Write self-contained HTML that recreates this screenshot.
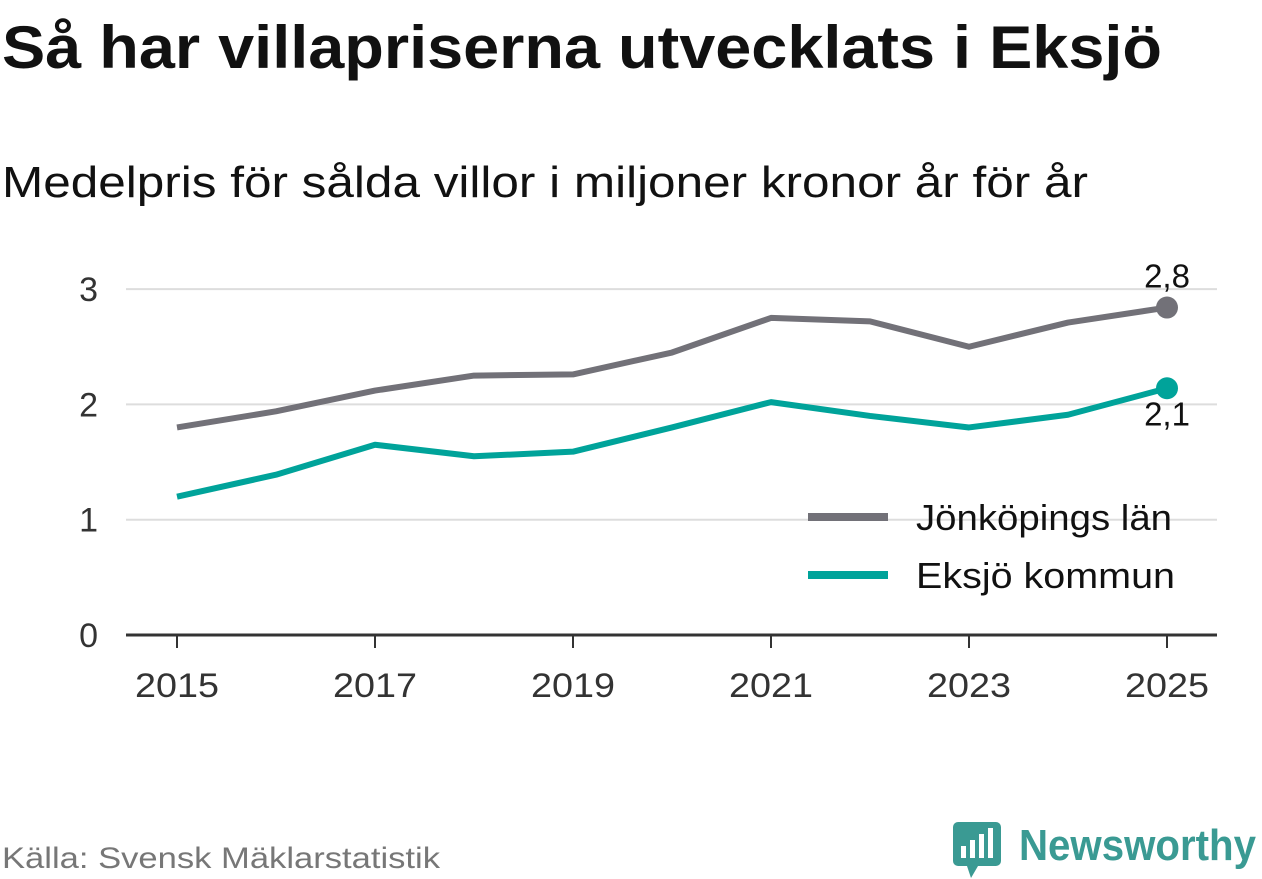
<!DOCTYPE html>
<html><head><meta charset="utf-8">
<style>
body{margin:0;width:1262px;height:879px;background:#fff;font-family:"Liberation Sans","DejaVu Sans",sans-serif;overflow:hidden;position:relative}
svg{position:absolute;left:0;top:0}
</style></head><body>
<svg id="chart" width="1262" height="879" font-family="Liberation Sans, DejaVu Sans, sans-serif">
<text x="2" y="68" font-size="60" font-weight="bold" fill="#111" textLength="1160" lengthAdjust="spacingAndGlyphs">Så har villapriserna utvecklats i Eksjö</text>
<text x="2" y="197" font-size="44" fill="#111" textLength="1086" lengthAdjust="spacingAndGlyphs">Medelpris för sålda villor i miljoner kronor år för år</text>
<text x="2" y="868" font-size="30" fill="#777" textLength="438" lengthAdjust="spacingAndGlyphs">Källa: Svensk Mäklarstatistik</text>
<g>
<path d="M958 822 h38 a5 5 0 0 1 5 5 v34 a5 5 0 0 1 -5 5 h-18 l-7 12 l-4 -12 h-9 a5 5 0 0 1 -5 -5 v-34 a5 5 0 0 1 5 -5z" fill="#3a9a93"/>
<rect x="961" y="846" width="5" height="12" fill="#fff"/><rect x="970" y="840" width="5" height="18" fill="#fff"/><rect x="979" y="834" width="5" height="24" fill="#fff"/><rect x="988" y="828" width="5" height="30" fill="#fff"/>
</g>
<text x="1019" y="860" font-size="44" font-weight="bold" fill="#3a9a93" textLength="237" lengthAdjust="spacingAndGlyphs">Newsworthy</text>
</svg>
<script>
const years=[2015,2016,2017,2018,2019,2020,2021,2022,2023,2024,2025];
const jonkoping=[1.80,1.94,2.12,2.25,2.26,2.45,2.75,2.72,2.50,2.71,2.84];
const eksjo=[1.20,1.39,1.65,1.55,1.59,1.80,2.02,1.90,1.80,1.91,2.14];
const yTicks=[0,1,2,3];
const xTicks=[2015,2017,2019,2021,2023,2025];
const NS="http://www.w3.org/2000/svg";
const svg=document.getElementById('chart');
const x=v=>177+(v-2015)*99;
const y=v=>635-v*115.3;
function mk(t,a){const e=document.createElementNS(NS,t);for(const k in a)e.setAttribute(k,a[k]);svg.appendChild(e);return e;}
yTicks.forEach(t=>{
 if(t>0){const g=mk('line',{x1:126,x2:1217,y1:y(t),y2:y(t),stroke:'#ddd','stroke-width':2});
 
 }
 const l=mk('text',{x:98,y:y(t)+12,'font-size':34,fill:'#333','text-anchor':'end'});l.textContent=t;
 
 
});
const ax=mk('line',{x1:126,x2:1217,y1:635,y2:635,stroke:'#333','stroke-width':3});


xTicks.forEach(t=>{
 const tk=mk('line',{x1:x(t),x2:x(t),y1:635,y2:648,stroke:'#333','stroke-width':2});
 
 
 const l=mk('text',{x:x(t),y:697,'font-size':34,fill:'#333','text-anchor':'middle',textLength:84,lengthAdjust:'spacingAndGlyphs'});l.textContent=t;
 
 
});
function series(vals,col,name){
 const p=mk('polyline',{points:vals.map((v,i)=>x(years[i])+','+y(v)).join(' '),fill:'none',stroke:col,'stroke-width':6,'stroke-linejoin':'round'});
 
 
 const n=vals.length-1;
 const c=mk('circle',{cx:x(years[n]),cy:y(vals[n]),r:11,fill:col});
 
 
}
series(jonkoping,'#727178','jonkoping');
series(eksjo,'#00a39a','eksjo');
const n=years.length-1;
const l1=mk('text',{x:x(years[n]),y:y(jonkoping[n])-20,'font-size':33,fill:'#111','text-anchor':'middle'});
l1.textContent=jonkoping[n].toFixed(1).replace('.',',');


const l2=mk('text',{x:x(years[n]),y:y(eksjo[n])+37,'font-size':33,fill:'#111','text-anchor':'middle'});
l2.textContent=eksjo[n].toFixed(1).replace('.',',');


[['Jönköpings län','#727178',517,256],['Eksjö kommun','#00a39a',575,259]].forEach(([t,c,yy,w])=>{
 const ln=mk('line',{x1:808,x2:888,y1:yy,y2:yy,stroke:c,'stroke-width':8});
 
 
 const tx=mk('text',{x:916,y:yy+13,'font-size':36,fill:'#111',textLength:w,lengthAdjust:'spacingAndGlyphs'});tx.textContent=t;
 
 
});
</script>
</body></html>
